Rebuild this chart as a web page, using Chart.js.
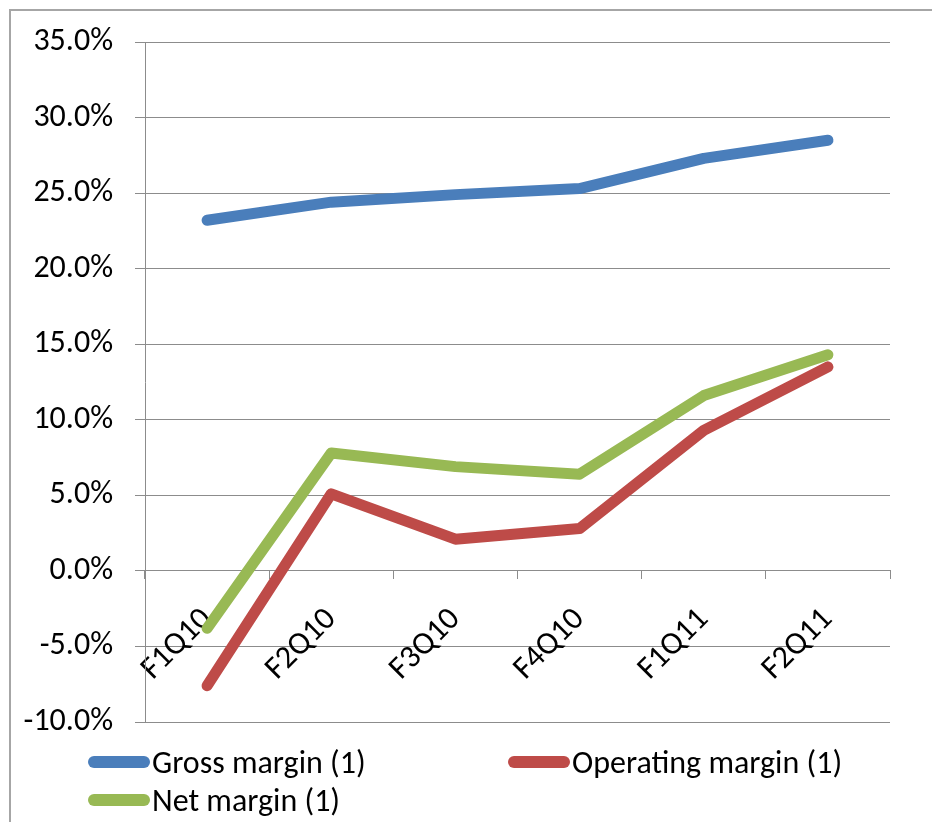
<!DOCTYPE html>
<html>
<head>
<meta charset="utf-8">
<script src="https://cdn.jsdelivr.net/npm/chart.js@4.4.1/dist/chart.umd.min.js"></script>
<style>
  html, body { margin: 0; padding: 0; background: #fff; }
  #wrap { position: relative; width: 932px; height: 822px; overflow: hidden; }
  #frame { position: absolute; left: 9px; top: 9px; width: 1000px; height: 1000px;
           border-left: 2px solid #a6a6a6; border-top: 2px solid #a6a6a6; }
  #box { position: absolute; left: 0; top: 0; width: 932px; height: 822px; }
  #legend { position: absolute; left: 88px; top: 743px; width: 840px;
            display: grid; grid-template-columns: 420px 420px; row-gap: 0;
            font-family: Carlito, Lato, sans-serif; font-size: 32px; color: #000; }
  .item { display: flex; align-items: center; height: 38px; white-space: nowrap; }
  .swatch { width: 62px; height: 12px; border-radius: 6px; margin-right: 2px; flex: none; }
</style>
</head>
<body>
<div id="wrap">
  <div id="frame"></div>
  <div id="box"><canvas id="chart"></canvas></div>
  <div id="legend"></div>
</div>
<script>
const quarters = ['F1Q10', 'F2Q10', 'F3Q10', 'F4Q10', 'F1Q11', 'F2Q11'];
const grossMargin = [23.2, 24.4, 24.9, 25.3, 27.3, 28.5];
const operatingMargin = [-7.6, 5.1, 2.1, 2.8, 9.3, 13.5];
const netMargin = [-3.8, 7.8, 6.9, 6.4, 11.6, 14.3];
const seriesNames = ['Gross margin (1)', 'Operating margin (1)', 'Net margin (1)'];
const seriesColors = ['#4a7ebb', '#be4b48', '#98b954'];

const FONT = 'Carlito, Lato, sans-serif';
const GRID = '#8c8c8c';

const line = (label, data, color, order) => ({
  label, data, order,
  borderColor: color, backgroundColor: color,
  borderWidth: 11, borderCapStyle: 'round', borderJoinStyle: 'round',
  pointRadius: 0, tension: 0, fill: false,
});

const chart = new Chart(document.getElementById('chart'), {
  type: 'line',
  data: {
    labels: quarters,
    datasets: [
      line(seriesNames[0], grossMargin, seriesColors[0], 3),
      line(seriesNames[1], operatingMargin, seriesColors[1], 2),
      line(seriesNames[2], netMargin, seriesColors[2], 1),
    ]
  },
  options: {
    responsive: true, maintainAspectRatio: false, animation: false,
    layout: { padding: { left: 0, top: 42, right: 42, bottom: 100 } },
    plugins: { legend: { display: false }, tooltip: { enabled: false } },
    scales: {
      x: {
        position: { y: 0 },
        offset: true,
        grid: { offset: true, drawOnChartArea: false, tickLength: 8, color: GRID, lineWidth: 1 },
        border: { color: GRID, width: 1 },
        ticks: {
          autoSkip: false, minRotation: 45, maxRotation: 45, padding: 22,
          color: '#000', font: { family: FONT, size: 32 }
        }
      },
      y: {
        min: -10, max: 35,
        afterFit: (scale) => { scale.width = 145; },
        grid: { color: GRID, lineWidth: 1, tickLength: 10 },
        border: { color: GRID, width: 1 },
        ticks: {
          stepSize: 5, padding: 22, color: '#000',
          font: { family: FONT, size: 32 },
          callback: (v) => v.toFixed(1) + '%'
        }
      }
    }
  }
});

const legend = document.getElementById('legend');
chart.data.datasets.forEach((ds) => {
  const item = document.createElement('div');
  item.className = 'item';
  const sw = document.createElement('span');
  sw.className = 'swatch';
  sw.style.background = ds.borderColor;
  const txt = document.createElement('span');
  txt.textContent = ds.label;
  item.appendChild(sw);
  item.appendChild(txt);
  legend.appendChild(item);
});
</script>
</body>
</html>
